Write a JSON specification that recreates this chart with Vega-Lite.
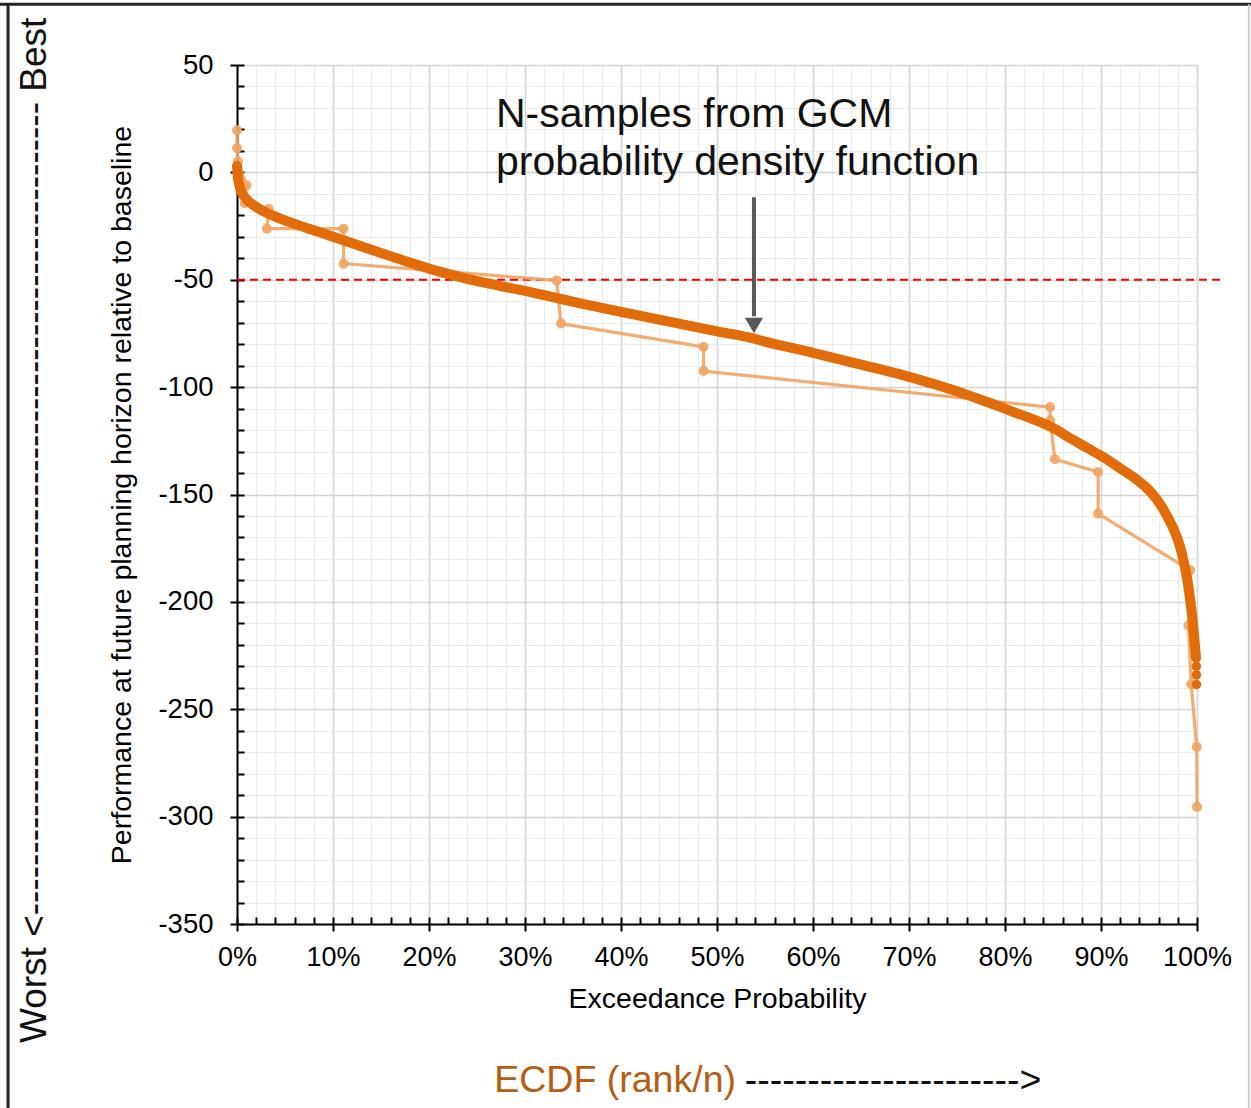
{
  "$schema": "https://vega.github.io/schema/vega-lite/v6.json",
  "width": 960,
  "height": 859,
  "autosize": {"type": "none"},
  "padding": {"left": 237, "top": 65, "right": 54, "bottom": 184},
  "background": "white",
  "config": {"view": {"stroke": null}, "font": "Liberation Sans"},
  "datasets": {
    "main": [
      {"p": 0.0, "v": 3}, {"p": 0.0005, "v": 0}, {"p": 0.001, "v": -2.5}, {"p": 0.002, "v": -5},
      {"p": 0.003, "v": -7}, {"p": 0.005, "v": -9.5}, {"p": 0.008, "v": -11.5}, {"p": 0.012, "v": -13.5},
      {"p": 0.018, "v": -15.5}, {"p": 0.025, "v": -17.5}, {"p": 0.034, "v": -19.5}, {"p": 0.045, "v": -21.5},
      {"p": 0.06, "v": -24}, {"p": 0.08, "v": -27}, {"p": 0.1, "v": -30}, {"p": 0.12, "v": -33},
      {"p": 0.14, "v": -36}, {"p": 0.16, "v": -39}, {"p": 0.18, "v": -42}, {"p": 0.2, "v": -44.8},
      {"p": 0.22, "v": -47.3}, {"p": 0.24, "v": -49.6}, {"p": 0.26, "v": -51.6}, {"p": 0.28, "v": -53.4},
      {"p": 0.3, "v": -55.2}, {"p": 0.33, "v": -58.2}, {"p": 0.36, "v": -61.2}, {"p": 0.4, "v": -65},
      {"p": 0.45, "v": -69.5}, {"p": 0.5, "v": -74}, {"p": 0.5375, "v": -77.3},
      {"p": 0.55, "v": -78.8}, {"p": 0.6, "v": -84}, {"p": 0.65, "v": -89.5}, {"p": 0.7, "v": -95.2},
      {"p": 0.72, "v": -97.8}, {"p": 0.74, "v": -100.5}, {"p": 0.76, "v": -103.5}, {"p": 0.78, "v": -106.7},
      {"p": 0.8, "v": -110}, {"p": 0.81, "v": -111.8}, {"p": 0.82, "v": -113.4}, {"p": 0.83, "v": -115.1},
      {"p": 0.84, "v": -116.9}, {"p": 0.85, "v": -119}, {"p": 0.86, "v": -121.6}, {"p": 0.87, "v": -124.3},
      {"p": 0.88, "v": -126.9}, {"p": 0.89, "v": -129.4}, {"p": 0.9, "v": -132}, {"p": 0.91, "v": -134.8},
      {"p": 0.92, "v": -137.8}, {"p": 0.93, "v": -140.8}, {"p": 0.94, "v": -144}, {"p": 0.95, "v": -148},
      {"p": 0.955, "v": -150.5}, {"p": 0.96, "v": -153.5}, {"p": 0.965, "v": -157}, {"p": 0.97, "v": -161},
      {"p": 0.975, "v": -165.5}, {"p": 0.98, "v": -171}, {"p": 0.984, "v": -177}, {"p": 0.987, "v": -183},
      {"p": 0.99, "v": -190}, {"p": 0.992, "v": -196}, {"p": 0.994, "v": -203}, {"p": 0.996, "v": -211},
      {"p": 0.997, "v": -216}, {"p": 0.998, "v": -221}, {"p": 0.999, "v": -226}
    ],
    "tail": [
      {"p": 0.9993, "v": -230}, {"p": 0.9994, "v": -234}, {"p": 0.9995, "v": -238.5}
    ],
    "sample": [
      {"i": 1, "p": 0.0, "v": 19.6}, {"i": 2, "p": 0.0, "v": 11.3}, {"i": 3, "p": 0.001, "v": 5.1},
      {"i": 4, "p": 0.01, "v": -6}, {"i": 5, "p": 0.008, "v": -14.4}, {"i": 6, "p": 0.033, "v": -17},
      {"i": 7, "p": 0.031, "v": -26.2}, {"i": 8, "p": 0.111, "v": -26.2}, {"i": 9, "p": 0.111, "v": -42.5},
      {"i": 10, "p": 0.333, "v": -50.3}, {"i": 11, "p": 0.3375, "v": -70.4}, {"i": 12, "p": 0.486, "v": -81.3},
      {"i": 13, "p": 0.486, "v": -92.5}, {"i": 14, "p": 0.847, "v": -109.3}, {"i": 15, "p": 0.847, "v": -115.5},
      {"i": 16, "p": 0.852, "v": -133.6}, {"i": 17, "p": 0.897, "v": -139.5}, {"i": 18, "p": 0.897, "v": -158.9},
      {"i": 19, "p": 0.993, "v": -185.3}, {"i": 20, "p": 0.991, "v": -211}, {"i": 21, "p": 0.994, "v": -238.4},
      {"i": 22, "p": 0.9997, "v": -267.6}, {"i": 23, "p": 1.0, "v": -295.5}
    ],
    "ref": [{"p": 0, "p2": 1.026, "v": -50}],
    "frameh": [
      {"p": -0.25, "p2": 1.06, "v": 78.3}
    ],
    "framev": [
      {"p": -0.2385, "v": 78.3, "v2": -445}
    ],
    "framer": [
      {"p": 1.054, "v": 78.3, "v2": -445}
    ],
    "arrow": [{"p": 0.5385, "v": -11.6, "v2": -67}],
    "head": [{"p": 0.5385, "v": -71.3}],
    "note": [
      {"p": 0.2698, "v": 26.5, "t": "N-samples from GCM"},
      {"p": 0.2698, "v": 4.2, "t": "probability density function"}
    ],
    "ecdf": [{"p": 0.268, "v": -423.3, "t": "ECDF (rank/n)"}],
    "ecdfarrow": [{"p": 0.529, "v": -423.3, "t": "---------------------->"}],
    "side": [{"p": -0.2104, "v": -166.7, "t": "Worst <------------------------------------------------------------------ Best"}]
  },
  "layer": [
    {
      "data": {"name": "ref"},
      "mark": {"type": "rule", "color": "#ff0000", "strokeWidth": 1.8, "strokeDash": [8, 5]},
      "encoding": {
        "x": {"field": "p", "type": "quantitative", "scale": {"domain": [0, 1], "nice": false, "zero": false},
          "axis": {"orient": "bottom", "values": [0,0.02,0.04,0.06,0.08,0.1,0.12,0.14,0.16,0.18,0.2,0.22,0.24,0.26,0.28,0.3,0.32,0.34,0.36,0.38,0.4,0.42,0.44,0.46,0.48,0.5,0.52,0.54,0.56,0.58,0.6,0.62,0.64,0.66,0.68,0.7,0.72,0.74,0.76,0.78,0.8,0.82,0.84,0.86,0.88,0.9,0.92,0.94,0.96,0.98,1],
            "labels": false, "domain": false, "title": null, "grid": true, "gridColor": "#ececec", "gridWidth": 1.2,
            "ticks": true, "tickSize": -7, "tickColor": "#000", "tickWidth": 2}},
        "x2": {"field": "p2"},
        "y": {"field": "v", "type": "quantitative", "scale": {"domain": [-350, 50], "nice": false, "zero": false},
          "axis": {"orient": "left", "values": [-350,-340,-330,-320,-310,-300,-290,-280,-270,-260,-250,-240,-230,-220,-210,-200,-190,-180,-170,-160,-150,-140,-130,-120,-110,-100,-90,-80,-70,-60,-50,-40,-30,-20,-10,0,10,20,30,40,50],
            "labels": false, "domain": false, "title": null, "grid": true, "gridColor": "#ececec", "gridWidth": 1.2,
            "ticks": true, "tickSize": -7, "tickColor": "#000", "tickWidth": 2}}
      }
    },
    {
      "data": {"name": "sample"},
      "mark": {"type": "line", "color": "#f2a362", "strokeWidth": 3.2, "opacity": 0.9},
      "encoding": {
        "x": {"field": "p", "type": "quantitative",
          "axis": {"orient": "bottom", "values": [0,0.1,0.2,0.3,0.4,0.5,0.6,0.7,0.8,0.9,1], "format": ".0%",
            "labelOverlap": false, "labelFlush": false, "labelBound": false,
            "grid": true, "gridColor": "#d4d4d4", "gridWidth": 1.5,
            "domain": true, "domainColor": "#000", "domainWidth": 2,
            "ticks": true, "tickSize": 7, "tickColor": "#000", "tickWidth": 2,
            "labelPadding": 13, "labelFontSize": 27, "labelColor": "#000", "labelFont": "Liberation Sans",
            "title": "Exceedance Probability", "titleFontSize": 28.5, "titleFontWeight": "normal", "titleColor": "#000",
            "titleFont": "Liberation Sans", "titlePadding": 14}},
        "y": {"field": "v", "type": "quantitative",
          "axis": {"orient": "left", "values": [-350,-300,-250,-200,-150,-100,-50,0,50], "labelExpr": "'' + datum.value",
            "labelOverlap": false, "labelFlush": false, "labelBound": false,
            "grid": true, "gridColor": "#d4d4d4", "gridWidth": 1.5,
            "domain": true, "domainColor": "#000", "domainWidth": 2,
            "ticks": true, "tickSize": 7, "tickColor": "#000", "tickWidth": 2,
            "labelPadding": 17, "labelFontSize": 27.5, "labelColor": "#000", "labelFont": "Liberation Sans",
            "title": "Performance at future planning horizon relative to baseline", "titleFontSize": 28.5,
            "titleFontWeight": "normal", "titleColor": "#000", "titleFont": "Liberation Sans", "titlePadding": 21}},
        "order": {"field": "i", "type": "quantitative"}
      }
    },
    {
      "data": {"name": "sample"},
      "mark": {"type": "point", "filled": true, "color": "#f2a362", "size": 100, "opacity": 0.9},
      "encoding": {
        "x": {"field": "p", "type": "quantitative", "axis": null},
        "y": {"field": "v", "type": "quantitative", "axis": null}
      }
    },
    {
      "data": {"name": "main"},
      "mark": {"type": "line", "color": "#e36c0a", "strokeWidth": 10, "strokeCap": "round", "strokeJoin": "round", "interpolate": "monotone"},
      "encoding": {
        "x": {"field": "p", "type": "quantitative", "axis": null},
        "y": {"field": "v", "type": "quantitative", "axis": null}
      }
    },
    {
      "data": {"name": "tail"},
      "mark": {"type": "point", "filled": true, "color": "#e36c0a", "size": 90, "opacity": 1},
      "encoding": {
        "x": {"field": "p", "type": "quantitative", "axis": null},
        "y": {"field": "v", "type": "quantitative", "axis": null}
      }
    },
    {
      "data": {"name": "arrow"},
      "mark": {"type": "rule", "color": "#595959", "strokeWidth": 4},
      "encoding": {
        "x": {"field": "p", "type": "quantitative", "axis": null},
        "y": {"field": "v", "type": "quantitative", "axis": null},
        "y2": {"field": "v2"}
      }
    },
    {
      "data": {"name": "head"},
      "mark": {"type": "point", "shape": "triangle-down", "filled": true, "color": "#595959", "size": 330, "opacity": 1},
      "encoding": {
        "x": {"field": "p", "type": "quantitative", "axis": null},
        "y": {"field": "v", "type": "quantitative", "axis": null}
      }
    },
    {
      "data": {"name": "note"},
      "mark": {"type": "text", "align": "left", "baseline": "middle", "fontSize": 41, "color": "#111", "font": "Liberation Sans"},
      "encoding": {
        "x": {"field": "p", "type": "quantitative", "axis": null},
        "y": {"field": "v", "type": "quantitative", "axis": null},
        "text": {"field": "t"}
      }
    },
    {
      "data": {"name": "ecdf"},
      "mark": {"type": "text", "align": "left", "baseline": "middle", "fontSize": 37.5, "color": "#b65d12", "font": "Liberation Sans"},
      "encoding": {
        "x": {"field": "p", "type": "quantitative", "axis": null},
        "y": {"field": "v", "type": "quantitative", "axis": null},
        "text": {"field": "t"}
      }
    },
    {
      "data": {"name": "ecdfarrow"},
      "mark": {"type": "text", "align": "left", "baseline": "middle", "fontSize": 37.5, "color": "#111", "font": "Liberation Sans"},
      "encoding": {
        "x": {"field": "p", "type": "quantitative", "axis": null},
        "y": {"field": "v", "type": "quantitative", "axis": null},
        "text": {"field": "t"}
      }
    },
    {
      "data": {"name": "side"},
      "mark": {"type": "text", "align": "center", "baseline": "middle", "angle": 270, "fontSize": 37, "color": "#111", "font": "Liberation Sans"},
      "encoding": {
        "x": {"field": "p", "type": "quantitative", "axis": null},
        "y": {"field": "v", "type": "quantitative", "axis": null},
        "text": {"field": "t"}
      }
    },
    {
      "data": {"name": "frameh"},
      "mark": {"type": "rule", "color": "#222", "strokeWidth": 3},
      "encoding": {
        "x": {"field": "p", "type": "quantitative", "axis": null},
        "x2": {"field": "p2"},
        "y": {"field": "v", "type": "quantitative", "axis": null}
      }
    },
    {
      "data": {"name": "framev"},
      "mark": {"type": "rule", "color": "#222", "strokeWidth": 3},
      "encoding": {
        "x": {"field": "p", "type": "quantitative", "axis": null},
        "y": {"field": "v", "type": "quantitative", "axis": null},
        "y2": {"field": "v2"}
      }
    },
    {
      "data": {"name": "framer"},
      "mark": {"type": "rule", "color": "#cccccc", "strokeWidth": 2},
      "encoding": {
        "x": {"field": "p", "type": "quantitative", "axis": null},
        "y": {"field": "v", "type": "quantitative", "axis": null},
        "y2": {"field": "v2"}
      }
    }
  ],
  "resolve": {"axis": {"x": "independent", "y": "independent"}}
}
